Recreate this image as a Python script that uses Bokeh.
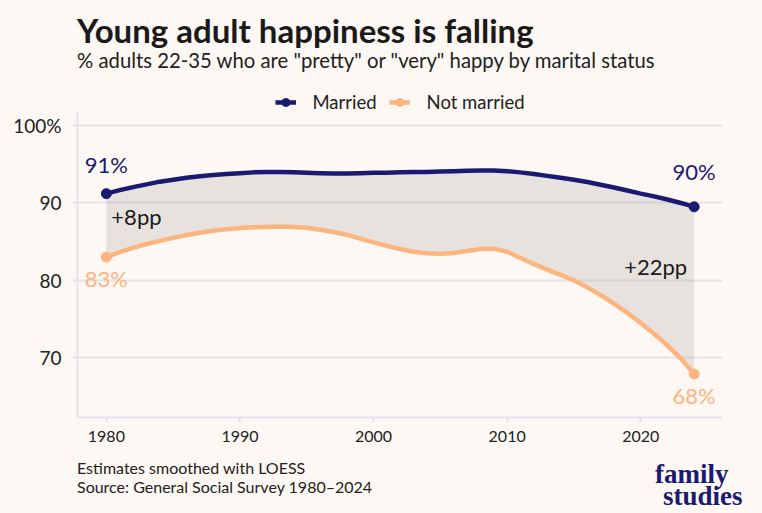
from bokeh.plotting import figure
from bokeh.models import Label, Legend, LegendItem, FixedTicker, ColumnDataSource, Range1d, Div
from bokeh.layouts import column
from bokeh.embed import file_html
from bokeh.resources import INLINE

# LOESS-smoothed share of adults 22-35 who are "pretty" or "very" happy (GSS)
years = list(range(1980, 2025))
married = [91.2, 91.65, 92.05, 92.4, 92.75, 93.0, 93.25, 93.45, 93.6, 93.75,
           93.85, 93.95, 94.0, 94.0, 93.95, 93.9, 93.85, 93.8, 93.8, 93.85,
           93.9, 93.9, 93.95, 94.0, 94.0, 94.05, 94.1, 94.15, 94.2, 94.2,
           94.1, 93.95, 93.75, 93.5, 93.25, 93.0, 92.7, 92.35, 92.0, 91.6,
           91.2, 90.85, 90.45, 90.0, 89.5]
not_married = [83.0, 83.65, 84.2, 84.7, 85.1, 85.5, 85.85, 86.15, 86.4, 86.6,
               86.75, 86.85, 86.9, 86.95, 86.9, 86.8, 86.55, 86.25, 85.9, 85.4,
               84.9, 84.45, 84.05, 83.7, 83.5, 83.45, 83.55, 83.8, 84.05, 84.1,
               83.7, 82.9, 82.1, 81.4, 80.7, 80.0, 79.1, 78.1, 77.0, 75.8,
               74.5, 73.1, 71.6, 69.9, 67.9]
x_ticks = [1980, 1990, 2000, 2010, 2020]
y_ticks = [70, 80, 90, 100]

NAVY = "#1b1a72"
ORANGE = "#fdb47f"
BG = "#fdf8f3"
GRID = "#e5e2ea"
INK = "#1a1a1a"
FONT = "Lato"

W = 762
HEAD_H, PLOT_H, FOOT_H = 85, 370, 58
# frame: starts at the top of the plot, leaves room for axes left/below
FL, FR, FB = 77, 722, 332

src = ColumnDataSource(dict(year=years, married=married, not_married=not_married))

p = figure(width=W, height=PLOT_H, output_backend="svg", toolbar_location=None,
           x_range=Range1d(1977.84, 2026.12), y_range=Range1d(62.29, 105.17),
           min_border_left=FL, min_border_right=W - FR,
           min_border_top=0, min_border_bottom=PLOT_H - FB, margin=0)
p.title.visible = False
p.background_fill_color = BG
p.border_fill_color = BG
p.outline_line_color = None

# gap between the two series
p.varea(x="year", y1="not_married", y2="married", source=src,
        fill_color="#a89f9f", fill_alpha=0.25)

lm = p.line("year", "married", source=src, line_color=NAVY, line_width=4.5)
ln = p.line("year", "not_married", source=src, line_color=ORANGE, line_width=4.5)
ends = [0, len(years) - 1]
dm = p.scatter([years[i] for i in ends], [married[i] for i in ends],
               size=10, color=NAVY)
dn = p.scatter([years[i] for i in ends], [not_married[i] for i in ends],
               size=10, color=ORANGE)

legend = Legend(items=[LegendItem(label="Married", renderers=[lm, dm]),
                       LegendItem(label="Not married", renderers=[ln, dn])],
                orientation="horizontal", location="top_center",
                label_text_font=FONT, label_text_font_size="18.5px",
                label_text_color="#222222", glyph_width=21, glyph_height=20,
                label_height=20, label_standoff=17, spacing=12,
                padding=0, margin=6, background_fill_alpha=0, border_line_alpha=0)
p.add_layout(legend)

# axes
p.xgrid.visible = False
p.ygrid.grid_line_color = GRID
p.ygrid.grid_line_width = 2
p.ygrid.ticker = FixedTicker(ticks=y_ticks)
p.yaxis.ticker = FixedTicker(ticks=y_ticks)
p.xaxis.ticker = FixedTicker(ticks=x_ticks)
p.yaxis.bounds = (62.29, 101.68)
p.yaxis.major_label_overrides = {100: "100%"}
for ax in (p.xaxis, p.yaxis):
    ax.axis_line_color = GRID
    ax.axis_line_width = 2
    ax.major_tick_line_color = GRID
    ax.major_tick_line_width = 2
    ax.major_tick_in = 0
    ax.minor_tick_line_color = None
    ax.major_label_text_font = FONT
    ax.major_label_text_color = "#222222"
p.xaxis.major_tick_out = 5
p.xaxis.major_label_text_font_size = "16px"
p.xaxis.major_label_standoff = 8
p.yaxis.major_tick_out = 5
p.yaxis.major_label_text_font_size = "19px"
p.yaxis.major_label_standoff = 11

# end-point value labels
lbl = dict(text_font=FONT, text_font_size="22px", text_align="center")
p.add_layout(Label(x=years[0], y=married[0], text=f"{round(married[0])}%",
                   y_offset=16, text_color=NAVY, **lbl))
p.add_layout(Label(x=years[-1], y=married[-1], text=f"{round(married[-1])}%",
                   y_offset=22, text_color=NAVY, **lbl))
p.add_layout(Label(x=years[0], y=not_married[0], text=f"{round(not_married[0])}%",
                   y_offset=-8, text_baseline="top", text_color=ORANGE, **lbl))
p.add_layout(Label(x=years[-1], y=not_married[-1], text=f"{round(not_married[-1])}%",
                   y_offset=-8, text_baseline="top", text_color=ORANGE, **lbl))

# gap labels
gap0 = round(married[0] - not_married[0])
gap1 = round(married[-1] - not_married[-1])
p.add_layout(Label(x=years[0], y=(married[0] + not_married[0]) / 2,
                   text=f"+{gap0}pp", x_offset=5, y_offset=9,
                   text_baseline="middle", text_font=FONT, text_font_size="22px",
                   text_color=INK))
p.add_layout(Label(x=years[-1], y=(married[-1] + not_married[-1]) / 2,
                   text=f"+{gap1}pp", x_offset=-7, y_offset=24, text_align="right",
                   text_baseline="middle", text_font=FONT, text_font_size="22px",
                   text_color=INK))


# header and footer as html blocks around the plot
def place(txt, left, top, size, color, extra="", lh=None):
    lh = size if lh is None else lh
    return (f'<div style="position:absolute;left:{left}px;top:{top}px;white-space:nowrap;'
            f'font-size:{size}px;line-height:{lh}px;color:{color};{extra}">{txt}</div>')


LOGO = "font-family:'Liberation Serif';font-weight:bold;"
head_html = (f'<div style="position:relative;width:{W}px;height:{HEAD_H}px;font-family:Lato;">'
             + place("Young adult happiness is falling", 77, 14, 33, INK, "font-weight:bold;")
             + place('% adults 22-35 who are "pretty" or "very" happy by marital status',
                     77, 50, 20.3, "#222222")
             + '</div>')
foot_html = (f'<div style="position:relative;width:{W}px;height:{FOOT_H}px;font-family:Lato;">'
             + place("Estimates smoothed with LOESS", 77, 5, 16, "#222222")
             + place("Source: General Social Survey 1980\u20132024", 77, 24, 16, "#222222")
             + place("family", 655, 10, 27, NAVY, LOGO, lh=18)
             + place("studies", 663, 32, 27, NAVY, LOGO, lh=18)
             + '</div>')

head = Div(text=head_html, width=W, height=HEAD_H, margin=0,
           styles={"background-color": BG})
foot = Div(text=foot_html, width=W, height=FOOT_H, margin=0,
           styles={"background-color": BG})

page = column(head, p, foot, spacing=0, margin=0,
              styles={"background-color": BG, "border-radius": "16px"})

open("out.html", "w").write(file_html(page, INLINE))
